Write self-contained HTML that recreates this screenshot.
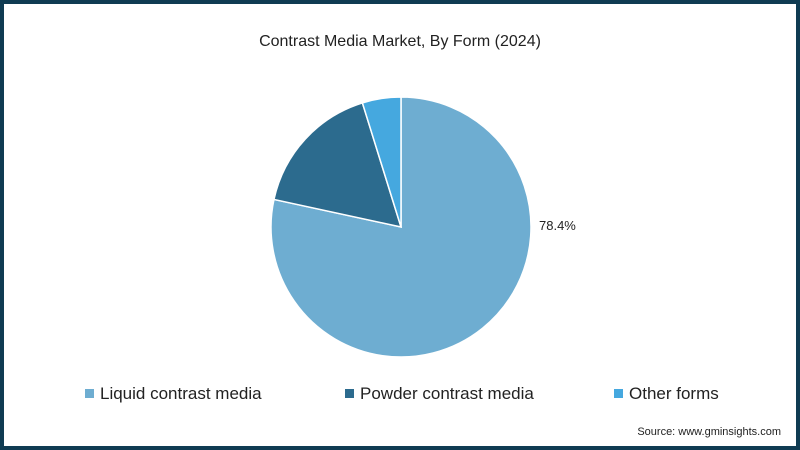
<!DOCTYPE html>
<html><head><meta charset="utf-8"><style>
body{margin:0;width:800px;height:450px;overflow:hidden;font-family:"Liberation Sans",sans-serif;}
#frame{position:absolute;left:0;top:0;width:792px;height:442px;border:4px solid #0f3b52;background:#fff;}
.t{position:absolute;color:#222;white-space:nowrap}
.leg{position:absolute;top:384px;font-size:17px;color:#222;white-space:nowrap}
.sw{display:inline-block;width:9px;height:9px;margin-right:6px;vertical-align:1px}
</style></head><body>
<div id="frame"></div>
<div class="t" style="left:0;width:800px;text-align:center;top:33px;font-size:16px">Contrast Media Market, By Form (2024)</div>
<svg id="pie" width="800" height="450" style="position:absolute;left:0;top:0"></svg>
<div class="leg" style="left:85px"><span class="sw" style="background:#6eadd1"></span>Liquid contrast media</div>
<div class="leg" style="left:345px"><span class="sw" style="background:#2c6b8e"></span>Powder contrast media</div>
<div class="leg" style="left:614px"><span class="sw" style="background:#45a8df"></span>Other forms</div>
<div class="t" style="right:19px;top:426px;font-size:11px">Source: www.gminsights.com</div>
<script>
const categories=["Liquid contrast media","Powder contrast media","Other forms"];
const values=[78.4,16.8,4.8];
const colors=["#6eadd1","#2c6b8e","#45a8df"];
const cx=401,cy=227,r=130;
const svg=document.getElementById('pie');
const ns="http://www.w3.org/2000/svg";
const total=values.reduce((a,b)=>a+b,0);
let a0=0;
values.forEach((v,i)=>{
  const a1=a0+v/total*2*Math.PI;
  const x0=cx+r*Math.sin(a0),y0=cy-r*Math.cos(a0),x1=cx+r*Math.sin(a1),y1=cy-r*Math.cos(a1);
  const p=document.createElementNS(ns,'path');
  p.setAttribute('d',`M${cx},${cy}L${x0},${y0}A${r},${r} 0 ${a1-a0>Math.PI?1:0} 1 ${x1},${y1}Z`);
  p.setAttribute('fill',colors[i]);p.setAttribute('stroke','#fff');p.setAttribute('stroke-width','1.5');
  
  
  svg.appendChild(p);
  if(i===0){
    const t=document.createElementNS(ns,'text');
    t.setAttribute('x',cx+r+8);t.setAttribute('y',cy+3);
    t.setAttribute('text-anchor','start');t.setAttribute('font-size','13');t.setAttribute('fill','#222');
    t.setAttribute('font-family','Liberation Sans, sans-serif');
    t.textContent=v.toFixed(1)+'%';
    
    
    svg.appendChild(t);
  }
  a0=a1;
});
</script>
</body></html>
